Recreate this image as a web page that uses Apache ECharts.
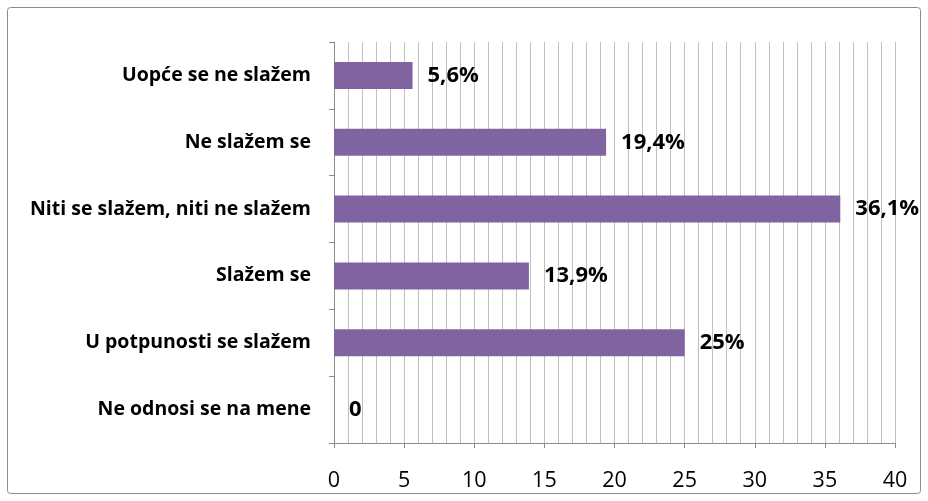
<!DOCTYPE html>
<html>
<head>
<meta charset="utf-8">
<script src="https://cdn.jsdelivr.net/npm/echarts@6/dist/echarts.min.js"></script>
<style>
html,body{margin:0;padding:0;background:#fff;}
#chart{width:928px;height:501px;}
</style>
</head>
<body>
<div id="chart"></div>
<script>
// Categories listed from top to bottom
var categories = ['Uopće se ne slažem','Ne slažem se','Niti se slažem, niti ne slažem','Slažem se','U potpunosti se slažem','Ne odnosi se na mene'];
var values = [5.6, 19.4, 36.1, 13.9, 25, 0];
var valueLabels = ['5,6%','19,4%','36,1%','13,9%','25%','0'];
var xTicks = [0, 5, 10, 15, 20, 25, 30, 35, 40];

var FONT = '"Open Sans", sans-serif';
var chart = echarts.init(document.getElementById('chart'), null, {renderer:'canvas'});
chart.setOption({
  animation:false,
  backgroundColor:'#ffffff',
  graphic:[{type:'rect', shape:{x:7.5,y:7.5,width:913,height:486,r:3}, style:{fill:'none',stroke:'#8c8c8c',lineWidth:1}, z:-1}],
  grid:{left:334, right:33, top:42, bottom:58, containLabel:false},
  xAxis:{
    type:'value', min:xTicks[0], max:xTicks[xTicks.length-1], interval:5,
    axisLine:{show:true, lineStyle:{color:'#8c8c8c', width:1}},
    axisTick:{show:true, length:5, lineStyle:{color:'#8c8c8c'}},
    minorTick:{show:false, splitNumber:5},
    splitLine:{show:true, lineStyle:{color:'#bfbfbf', width:1}},
    minorSplitLine:{show:true, lineStyle:{color:'#bfbfbf', width:1}},
    axisLabel:{color:'#000', fontFamily:FONT, fontSize:21.5, margin:27}
  },
  yAxis:{
    type:'category', data:categories, inverse:true,
    axisLine:{show:true, lineStyle:{color:'#8c8c8c', width:1}},
    axisTick:{show:true, length:5, alignWithLabel:false, lineStyle:{color:'#8c8c8c'}},
    axisLabel:{color:'#000', fontFamily:FONT, fontSize:19.5, fontWeight:'bold', margin:23}
  },
  series:[{
    type:'bar', data:values, barWidth:27,
    itemStyle:{color:'#8064a2'},
    label:{show:true, position:'right', distance:15, color:'#000', fontFamily:FONT, fontSize:22, fontWeight:'bold',
      formatter:function(p){return valueLabels[p.dataIndex];}}
  }]
});
</script>
</body>
</html>
